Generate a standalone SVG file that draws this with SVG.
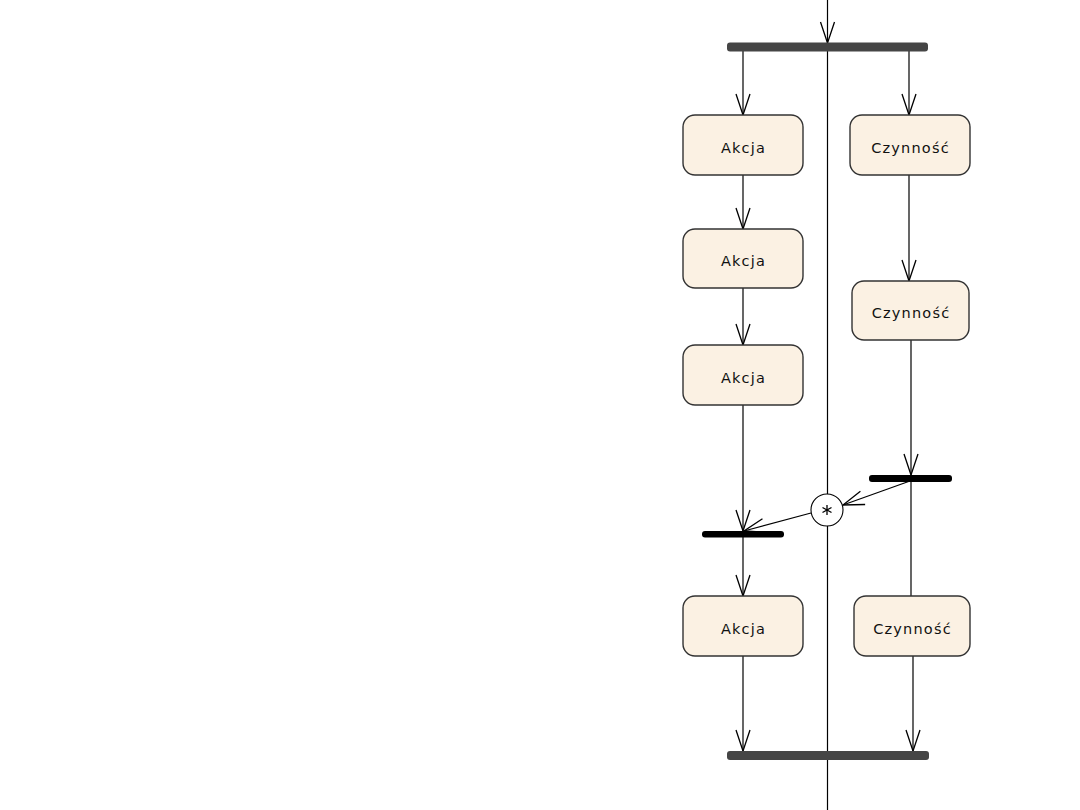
<svg xmlns="http://www.w3.org/2000/svg" width="1080" height="810" viewBox="0 0 1080 810">
<style>
.node rect{fill:#FBF1E3;stroke:#333;stroke-width:1.4}
.node text{font-family:"DejaVu Sans",sans-serif;font-size:14.5px;letter-spacing:1.2px;fill:#111;text-anchor:middle}
.conn line{stroke:#000;stroke-width:1.2;fill:none}
.a{marker-end:url(#arr)}
.sync{fill:#000}
.sync2{fill:#454545}
</style>
<defs>
<marker id="arr" markerUnits="userSpaceOnUse" markerWidth="24" markerHeight="20" viewBox="-22 -10 24 20" refX="0" refY="0" orient="auto">
<path d="M-21,-7 L0,0 L-21,7" fill="none" stroke="#000" stroke-width="1.3"/>
</marker>
</defs>
<rect width="1080" height="810" fill="#fff"/>
<g id="connectors" class="conn">
<line x1="827.5" y1="0" x2="827.5" y2="43" class="a"/>
<line x1="827.5" y1="51" x2="827.5" y2="751"/>
<line x1="827.5" y1="760" x2="827.5" y2="810"/>
<line x1="743" y1="51" x2="743" y2="115" class="a"/>
<line x1="909" y1="51" x2="909" y2="115" class="a"/>
<line x1="743" y1="175" x2="743" y2="229" class="a"/>
<line x1="743" y1="288" x2="743" y2="345" class="a"/>
<line x1="909" y1="175" x2="909" y2="281" class="a"/>
<line x1="743" y1="405" x2="743" y2="531" class="a"/>
<line x1="911" y1="340" x2="911" y2="475" class="a"/>
<line x1="910" y1="481" x2="843" y2="505" class="a"/>
<line x1="811" y1="513" x2="744" y2="531" class="a"/>
<line x1="911" y1="482" x2="911" y2="596"/>
<line x1="743" y1="537" x2="743" y2="596" class="a"/>
<line x1="743" y1="656" x2="743" y2="751" class="a"/>
<line x1="913" y1="656" x2="913" y2="751" class="a"/>
</g>
<g id="fork-top"><rect class="sync2" x="727" y="42.5" width="201" height="9" rx="3"/></g>
<g id="join-bottom"><rect class="sync2" x="727" y="751" width="202" height="9" rx="3"/></g>
<g id="fork-right"><rect class="sync" x="869" y="475" width="83" height="7" rx="3"/></g>
<g id="join-left"><rect class="sync" x="702" y="531" width="82" height="6.5" rx="3"/></g>
<g id="connector-circle">
<circle cx="827" cy="510" r="16" fill="#fff" stroke="#000" stroke-width="1.1"/>
<g stroke="#000" stroke-width="1.3">
<line x1="827" y1="505" x2="827" y2="515"/>
<line x1="822.5" y1="507.5" x2="831.5" y2="512.5"/>
<line x1="822.5" y1="512.5" x2="831.5" y2="507.5"/>
</g>
</g>
<g id="akcja1" class="node"><rect x="683" y="115" width="120" height="60" rx="12"/><text x="743.5" y="153">Akcja</text></g>
<g id="czynnosc1" class="node"><rect x="850" y="115" width="120" height="60" rx="12"/><text x="910.5" y="153">Czynność</text></g>
<g id="akcja2" class="node"><rect x="683" y="229" width="120" height="59" rx="12"/><text x="743.5" y="266">Akcja</text></g>
<g id="czynnosc2" class="node"><rect x="852" y="281" width="117" height="59" rx="12"/><text x="911" y="318">Czynność</text></g>
<g id="akcja3" class="node"><rect x="683" y="345" width="120" height="60" rx="12"/><text x="743.5" y="383">Akcja</text></g>
<g id="akcja4" class="node"><rect x="683" y="596" width="120" height="60" rx="12"/><text x="743.5" y="634">Akcja</text></g>
<g id="czynnosc3" class="node"><rect x="854" y="596" width="116" height="60" rx="12"/><text x="912.5" y="634">Czynność</text></g>
</svg>
